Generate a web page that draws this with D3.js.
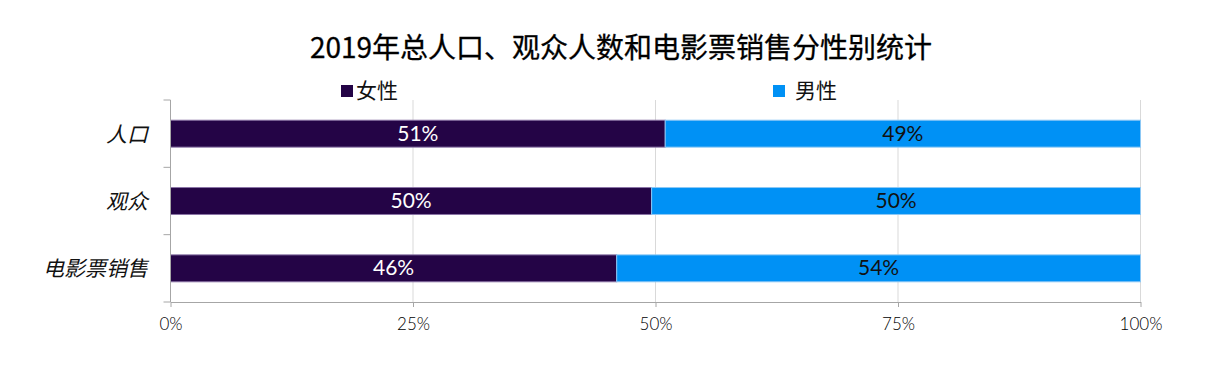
<!DOCTYPE html>
<html><head><meta charset="utf-8">
<script src="https://cdn.jsdelivr.net/npm/d3@7"></script>
<style>
body{margin:0;background:#fff;}
svg{display:block;}
</style></head>
<body>
<svg id="chart" width="1207" height="368"></svg>
<script>
const categories = ["人口", "观众", "电影票销售"];
const femaleValues = [51, 49.6, 46];
const maleValues = [49, 50.4, 54];
const femaleLabels = ["51%", "50%", "46%"];
const maleLabels = ["49%", "50%", "54%"];
const seriesNames = ["女性", "男性"];
const tickValues = [0, 25, 50, 75, 100];
const tickLabels = ["0%", "25%", "50%", "75%", "100%"];
const title = "2019年总人口、观众人数和电影票销售分性别统计";

const colors = {female: "#240446", male: "#0091F5", femaleStroke: "#8a74a6", maleStroke: "#8cc8f5"};
const svg = d3.select("#chart");
const pLeft = 170.5, pRight = 1140.5, pTop = 100, pBottom = 302;

const x = d3.scaleLinear().domain([0, 100]).range([pLeft, pRight]);
const y = d3.scaleBand().domain(categories).range([pTop, pBottom]).paddingInner(0.6).paddingOuter(0.3);
const yOuter = d3.scaleBand().domain(categories).range([pTop, pBottom]);

// title
svg.append("text").attr("x", 621).attr("y", 58).attr("text-anchor", "middle")
  .style("font-family", "'Noto Sans CJK SC'").style("font-size", "28px").style("font-weight", 400)
  .attr("fill", "#000").attr("stroke", "#000").attr("stroke-width", 0.3).text(title);

// legend
const legendX = [341, 773];
seriesNames.forEach((n, i) => {
  svg.append("rect").attr("x", legendX[i]).attr("y", 85).attr("width", 12).attr("height", 12)
    .attr("fill", i === 0 ? colors.female : colors.male);
  svg.append("text").attr("x", legendX[i] + (i === 0 ? 15 : 22)).attr("y", 98)
    .style("font-family", "'Noto Sans CJK SC'").style("font-size", "21px").attr("fill", "#111").text(n);
});

// gridlines
svg.append("g").selectAll("line").data(tickValues.slice(1)).join("line")
  .attr("x1", d => x(d)).attr("x2", d => x(d)).attr("y1", pTop).attr("y2", pBottom)
  .attr("stroke", "#d9d9d9").attr("stroke-width", 1);

// bars
const rows = categories.map((c, i) => ({c, f: femaleValues[i], m: maleValues[i], fl: femaleLabels[i], ml: maleLabels[i]}));
const g = svg.append("g");
g.selectAll("rect.f").data(rows).join("rect").attr("class", "f")
  .attr("x", x(0)).attr("y", d => y(d.c)).attr("width", d => x(d.f) - x(0)).attr("height", y.bandwidth())
  .attr("fill", colors.female).attr("stroke", colors.femaleStroke).attr("stroke-width", 1);
g.selectAll("rect.m").data(rows).join("rect").attr("class", "m")
  .attr("x", d => x(d.f)).attr("y", d => y(d.c)).attr("width", d => x(d.f + d.m) - x(d.f)).attr("height", y.bandwidth())
  .attr("fill", colors.male).attr("stroke", colors.maleStroke).attr("stroke-width", 1);

// data labels
const lblFont = "Lato, 'Open Sans', sans-serif";
g.selectAll("text.fl").data(rows).join("text").attr("class", "fl")
  .attr("x", d => (x(0) + x(d.f)) / 2).attr("y", d => y(d.c) + y.bandwidth() / 2 + 7)
  .attr("text-anchor", "middle").style("font-family", lblFont).style("font-size", "21px")
  .attr("fill", "#fff").text(d => d.fl);
g.selectAll("text.ml").data(rows).join("text").attr("class", "ml")
  .attr("x", d => (x(d.f) + x(d.f + d.m)) / 2).attr("y", d => y(d.c) + y.bandwidth() / 2 + 7)
  .attr("text-anchor", "middle").style("font-family", lblFont).style("font-size", "21px")
  .attr("fill", "#111").text(d => d.ml);

// y axis
const yAxisG = svg.append("g");
yAxisG.append("line").attr("x1", pLeft).attr("x2", pLeft).attr("y1", pTop).attr("y2", pBottom).attr("stroke", "#a6a6a6");
const bounds = categories.map(c => yOuter(c)).concat([pBottom]);
yAxisG.selectAll("line.t").data(bounds).join("line").attr("class", "t")
  .attr("x1", pLeft - 7).attr("x2", pLeft).attr("y1", d => d).attr("y2", d => d).attr("stroke", "#a6a6a6");
yAxisG.selectAll("text").data(categories).join("text")
  .attr("x", 148).attr("y", d => y(d) + y.bandwidth() / 2 + 8).attr("text-anchor", "end")
  .style("font-family", "'Noto Sans CJK SC'").style("font-size", "21px").style("font-style", "italic")
  .attr("fill", "#111").text(d => d);

// x axis
const xAxis = d3.axisBottom(x).tickValues(tickValues).tickFormat((d, i) => tickLabels[i]).tickSize(5).tickSizeOuter(0);
const xg = svg.append("g").attr("transform", `translate(0,${pBottom})`).call(xAxis);
xg.select(".domain").attr("stroke", "#a6a6a6");
xg.selectAll(".tick line").attr("stroke", "#a6a6a6");
xg.selectAll(".tick text").attr("y", 16).style("font-family", "Lato, sans-serif").style("font-size", "17px")
  .style("font-weight", 300).attr("fill", "#000");
</script>
</body></html>
